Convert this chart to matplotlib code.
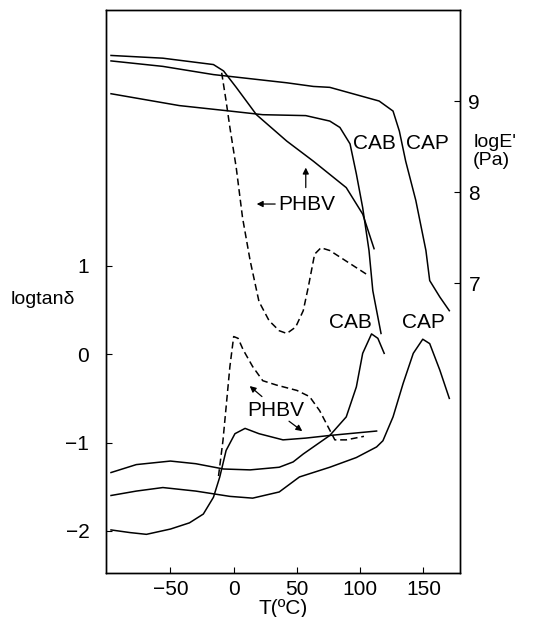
"""
Dynamic mechanical data of PHBV, CAB and CAP: logtan(delta) and logE' vs temperature.
"""
import matplotlib
matplotlib.use("Agg")
import matplotlib.pyplot as plt

# ---- logE' (Pa) curves, right axis ----
cap_e_T = [-97, -56, -16, -3, 42, 63, 76, 102, 115, 126, 131, 136, 144, 152, 155, 163, 170.5]
cap_e = [9.44, 9.38, 9.29, 9.27, 9.20, 9.16, 9.15, 9.05, 9.00, 8.89, 8.67, 8.34, 7.91, 7.36, 7.03, 6.85, 6.70]

cab_e_T = [-97, -43, -3, 23, 57, 76, 84, 92, 97, 102, 107, 110, 111.5, 116.5]
cab_e = [9.08, 8.95, 8.89, 8.85, 8.84, 8.78, 8.71, 8.53, 8.20, 7.83, 7.36, 6.92, 6.81, 6.45]

phbv_e_T = [-97, -56, -16, -8, 2, 18, 42, 63, 89, 102, 111]
phbv_e = [9.50, 9.47, 9.40, 9.33, 9.15, 8.85, 8.56, 8.34, 8.05, 7.76, 7.38]

phbvq_e_T = [-9.5, -6, -3, 2, 7, 13, 20, 28, 36, 42, 49, 55, 59, 64, 69, 76, 105]
phbvq_e = [9.31, 9.00, 8.71, 8.27, 7.72, 7.25, 6.80, 6.59, 6.48, 6.45, 6.52, 6.70, 6.96, 7.32, 7.39, 7.36, 7.10]

# ---- logtan(delta) curves, left axis ----
cab_t_T = [-97, -77, -50, -30, -8, 13, 36, 47, 55, 76, 89, 97, 102, 109, 114, 119]
cab_t = [-1.34, -1.25, -1.21, -1.24, -1.30, -1.31, -1.28, -1.22, -1.13, -0.92, -0.71, -0.37, 0.01, 0.23, 0.18, 0.01]

cap_t_T = [-97, -77, -56, -30, -3, 15, 36, 52, 76, 97, 113, 118, 126, 134, 142, 149.5, 155, 163, 170.5]
cap_t = [-1.60, -1.55, -1.51, -1.55, -1.61, -1.63, -1.56, -1.39, -1.28, -1.17, -1.05, -0.98, -0.71, -0.33, 0.01, 0.17, 0.12, -0.18, -0.50]

phbv_t_T = [-97, -82, -69, -50, -35, -24, -16, -11, -6, 1, 9, 20, 39, 57, 76, 113]
phbv_t = [-1.99, -2.02, -2.04, -1.98, -1.91, -1.81, -1.62, -1.39, -1.09, -0.90, -0.84, -0.90, -0.97, -0.95, -0.92, -0.87]

phbvq_t_T = [-12, -8.5, -6, -3, 0, 3.5, 7.5, 15, 23, 34, 50, 60, 68, 76, 80, 89, 103]
phbvq_t = [-1.38, -0.98, -0.60, -0.14, 0.20, 0.18, 0.05, -0.14, -0.30, -0.35, -0.41, -0.48, -0.64, -0.86, -0.97, -0.97, -0.93]

x_ticks = [-50, 0, 50, 100, 150]
left_ticks = [1, 0, -1, -2]
right_ticks = [9, 8, 7]

plt.rcParams['font.family'] = ['Liberation Sans', 'DejaVu Sans']

fig = plt.figure(figsize=(5.49, 6.17), dpi=100)
ax = fig.add_axes([0.193, 0.071, 0.645, 0.913])
ax2 = ax.twinx()

lw = 1.1
dash = (0, (4.5, 2.5))

ax.plot(cab_t_T, cab_t, color='black', lw=lw)
ax.plot(cap_t_T, cap_t, color='black', lw=lw)
ax.plot(phbv_t_T, phbv_t, color='black', lw=lw)
ax.plot(phbvq_t_T, phbvq_t, color='black', lw=lw, linestyle=dash)

ax2.plot(cap_e_T, cap_e, color='black', lw=lw)
ax2.plot(cab_e_T, cab_e, color='black', lw=lw)
ax2.plot(phbv_e_T, phbv_e, color='black', lw=lw)
ax2.plot(phbvq_e_T, phbvq_e, color='black', lw=lw, linestyle=dash)

ax.set_xlim(-101, 179)
ax.set_ylim(-2.48, 3.9)
ax2.set_ylim(3.82, 10.0)

ax.set_xticks(x_ticks)
ax.set_xticklabels(['\u221250', '0', '50', '100', '150'])
ax.set_yticks(left_ticks)
ax.set_yticklabels(['1', '0', '\u22121', '\u22122'])
ax2.set_yticks(right_ticks)
ax2.set_yticklabels([str(t) for t in right_ticks])

ax.tick_params(axis='y', direction='in', length=4, labelsize=15, pad=12)
ax.tick_params(axis='x', direction='in', length=4, labelsize=15, pad=5)
ax2.tick_params(axis='y', direction='in', length=4, labelsize=15, pad=6)
for a in (ax, ax2):
    for s in a.spines.values():
        s.set_linewidth(1.0)

ax.set_xlabel('T(\u00baC)', fontsize=15, labelpad=0)

# axis titles placed beside the spines
fig.text(0.02, 0.515, 'logtan\u03b4', fontsize=14, ha='left', va='center')
fig.text(0.862, 0.754, "logE'\n(Pa)", fontsize=14, ha='left', va='center', linespacing=1.1)

# curve labels, upper (modulus)
ax2.text(111, 8.53, 'CAB', fontsize=15, ha='center', va='center')
ax2.text(153, 8.53, 'CAP', fontsize=15, ha='center', va='center')
ax2.text(58, 7.87, 'PHBV', fontsize=15, ha='center', va='center')
ax2.annotate('', xy=(16, 7.87), xytext=(35, 7.87),
             arrowprops=dict(arrowstyle='-|>', color='black', lw=0.9, mutation_scale=9))
ax2.annotate('', xy=(57, 8.30), xytext=(57, 8.02),
             arrowprops=dict(arrowstyle='-|>', color='black', lw=0.9, mutation_scale=9))

# curve labels, lower (tan delta)
ax.text(92, 0.36, 'CAB', fontsize=15, ha='center', va='center')
ax.text(150, 0.36, 'CAP', fontsize=15, ha='center', va='center')
ax.text(33, -0.64, 'PHBV', fontsize=15, ha='center', va='center')
ax.annotate('', xy=(11, -0.34), xytext=(24, -0.50),
             arrowprops=dict(arrowstyle='-|>', color='black', lw=0.9, mutation_scale=9))
ax.annotate('', xy=(56, -0.89), xytext=(42, -0.74),
             arrowprops=dict(arrowstyle='-|>', color='black', lw=0.9, mutation_scale=9))

fig.savefig('out.png', dpi=100)
